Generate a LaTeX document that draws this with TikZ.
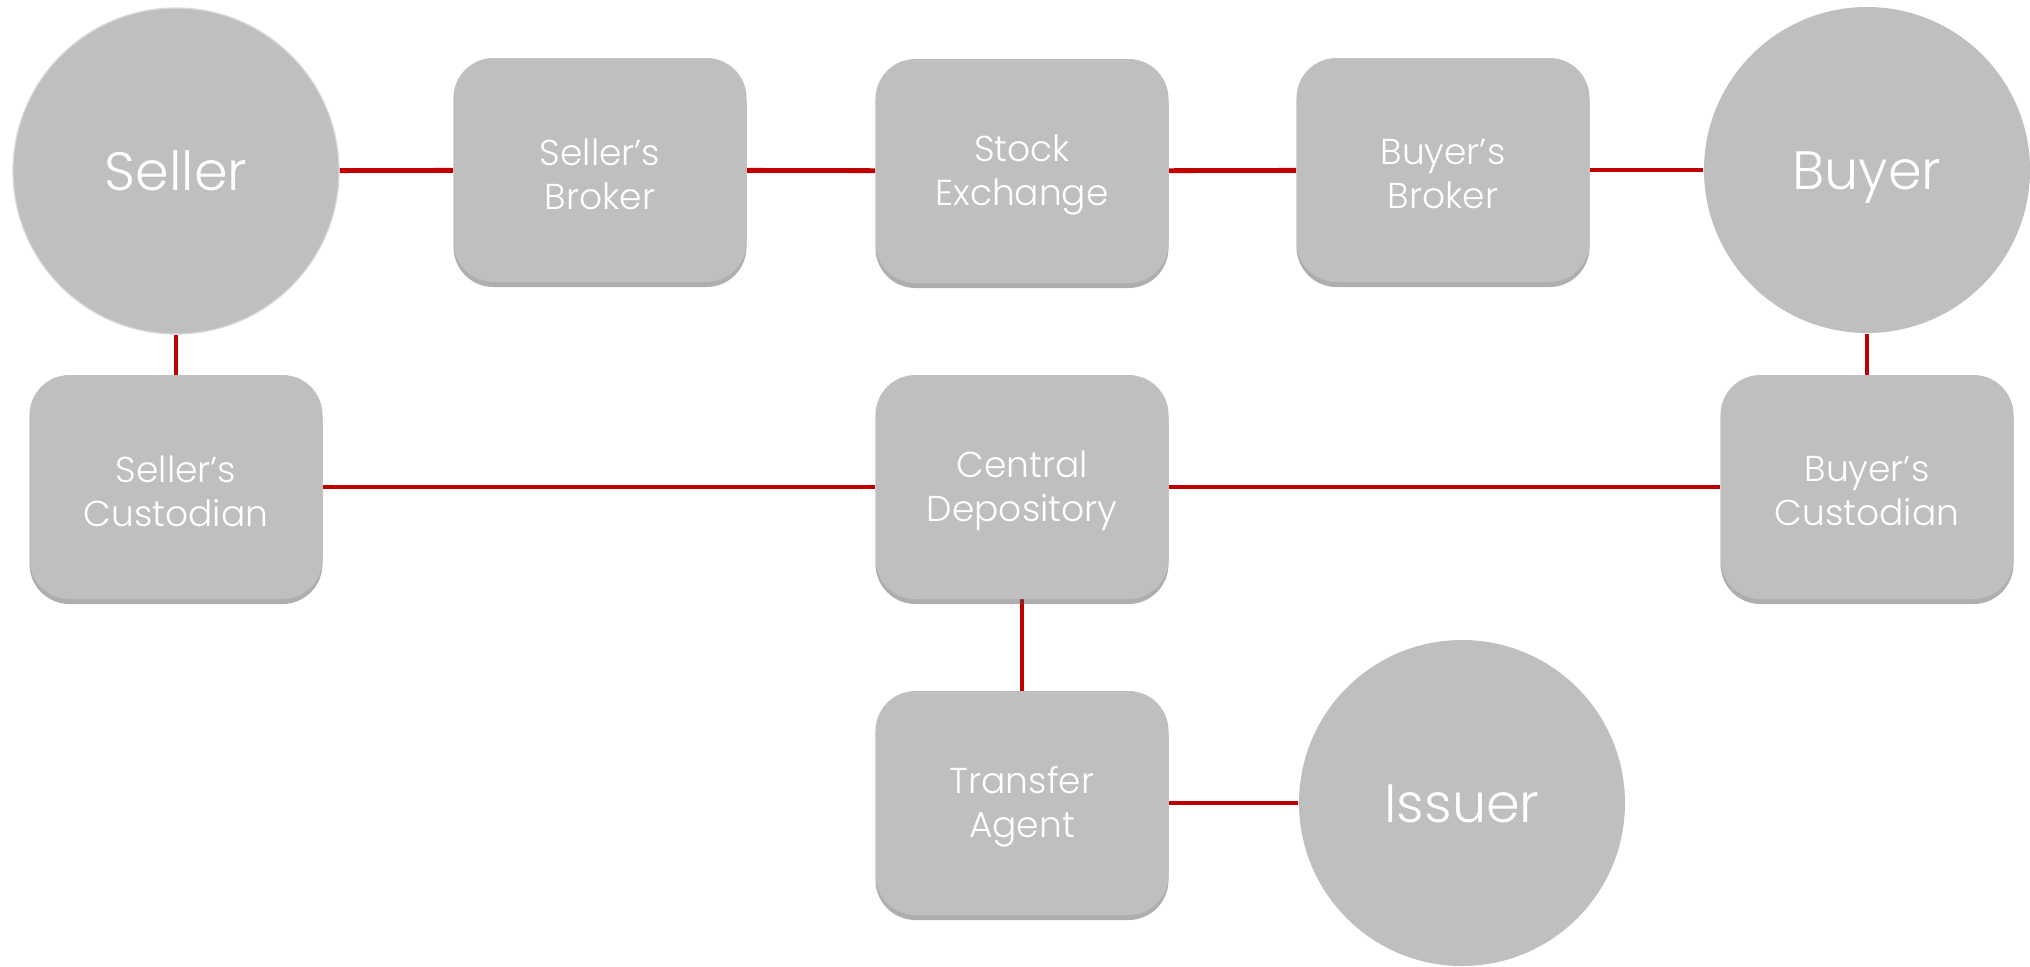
\documentclass[tikz,border=0pt]{standalone}
\usepackage{fontspec}
\setmainfont{Poppins}[UprightFont=* Light]
\usetikzlibrary{shadows,backgrounds}
\definecolor{boxgray}{HTML}{BFBFBF}
\definecolor{linered}{HTML}{C00000}
\tikzset{
  boxnode/.style={rectangle, rounded corners=20pt, fill=boxgray, minimum width=146.5pt, minimum height=112pt, inner sep=0pt,
    drop shadow={shadow xshift=0pt, shadow yshift=-2.5pt, opacity=0.45, fill=black!70}},
  boxtext/.style={text=white, align=center, font=\fontsize{18}{22}\selectfont, yshift=-2pt},
  circnode/.style={circle, fill=boxgray, draw=black!15, line width=0.6pt, minimum size=163pt, inner sep=0pt, text=white, font=\fontsize{27}{32}\selectfont, text height=19pt, text depth=0pt},
  conn/.style={draw=linered, line width=2.4pt}
}
\begin{document}
\begin{tikzpicture}[x=0.5pt,y=-0.5pt]
\useasboundingbox (0,0) rectangle (2030,966);
\node[circnode] (seller) at (176,171) {Seller};
\node[circnode, draw=none] (buyer) at (1867,170) {Buyer};
\node[circnode, draw=none] (issuer) at (1462,803) {Issuer};
\node[boxnode, label={[boxtext]center:Seller’s\\Broker}] (sbroker) at (600,170) {};
\node[boxnode, label={[boxtext]center:Stock\\Exchange}] (exch) at (1022,171) {};
\node[boxnode, label={[boxtext]center:Buyer’s\\Broker}] (bbroker) at (1443,170) {};
\node[boxnode, label={[boxtext]center:Seller’s\\Custodian}] (scust) at (176,487) {};
\node[boxnode, label={[boxtext]center:Central\\Depository}] (cdep) at (1022,487) {};
\node[boxnode, label={[boxtext]center:Buyer’s\\Custodian}] (bcust) at (1867,487) {};
\node[boxnode, label={[boxtext]center:Transfer\\Agent}] (tagent) at (1022,803) {};
\begin{scope}[on background layer]
\draw[conn] (seller) -- (sbroker);
\draw[conn] (sbroker) -- (exch);
\draw[conn] (exch) -- (bbroker);
\draw[conn] (bbroker) -- (buyer);
\draw[conn] (seller) -- (scust);
\draw[conn] (buyer) -- (bcust);
\draw[conn] (scust) -- (cdep);
\draw[conn] (cdep) -- (bcust);
\draw[conn] (cdep) -- (tagent);
\draw[conn] (tagent) -- (issuer);
\end{scope}
\end{tikzpicture}
\end{document}
